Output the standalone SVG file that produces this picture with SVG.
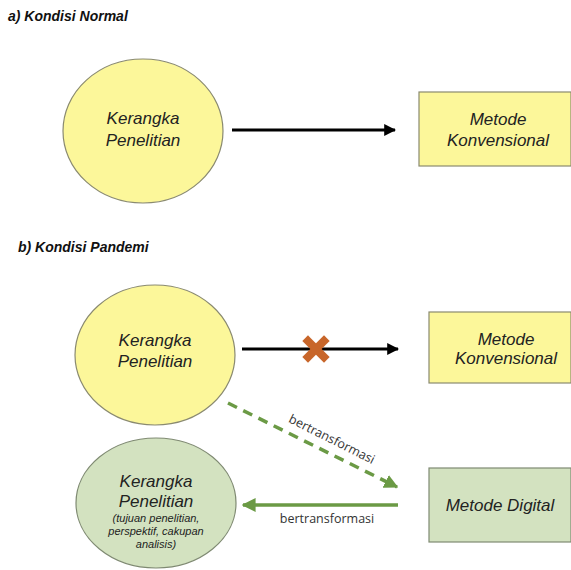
<svg xmlns="http://www.w3.org/2000/svg" width="571" height="570" viewBox="0 0 571 570">
<style>
.title{font-family:"Liberation Sans",Arial,sans-serif;font-weight:bold;font-style:italic;font-size:14px;fill:#111}
.lbl{font-family:"Liberation Sans",Arial,sans-serif;font-style:italic;font-size:17px;fill:#222;text-anchor:middle}
.sm{font-family:"Liberation Sans",Arial,sans-serif;font-style:italic;font-size:11px;fill:#222;text-anchor:middle}
.edge{font-family:"Open Sans","Liberation Sans",sans-serif;font-size:12.5px;fill:#333;text-anchor:middle}
.yel{fill:#fcf79a;stroke:#8a8a70;stroke-width:1.2}
.grn{fill:#d3e2c0;stroke:#7f8a72;stroke-width:1.2}
</style>
<defs>
<marker id="ab" viewBox="0 0 10 10" refX="9" refY="5" markerWidth="4" markerHeight="4" orient="auto"><path d="M0,0 L10,5 L0,10 z" fill="#000"/></marker>
<marker id="ag" viewBox="0 0 10 10" refX="9" refY="5" markerWidth="4" markerHeight="4" orient="auto-start-reverse"><path d="M0,0 L10,5 L0,10 z" fill="#6b9a45"/></marker>
</defs>
<text class="title" x="8" y="21">a) Kondisi Normal</text>
<text class="title" x="18" y="252">b) Kondisi Pandemi</text>
<g id="kerangka-a">
<ellipse class="yel" cx="143" cy="131" rx="80" ry="72"/>
<text class="lbl" x="143" y="124">Kerangka</text>
<text class="lbl" x="143" y="146">Penelitian</text>
</g>
<g id="metode-a">
<rect class="yel" x="419" y="92" width="152" height="74"/>
<text class="lbl" x="498" y="125">Metode</text>
<text class="lbl" x="498" y="146">Konvensional</text>
</g>
<g id="kerangka-b">
<ellipse class="yel" cx="155" cy="355" rx="80" ry="70"/>
<text class="lbl" x="155" y="346">Kerangka</text>
<text class="lbl" x="155" y="367">Penelitian</text>
</g>
<g id="metode-b">
<rect class="yel" x="429" y="312" width="142" height="71"/>
<text class="lbl" x="506" y="345">Metode</text>
<text class="lbl" x="506" y="364">Konvensional</text>
</g>
<g id="kerangka-c">
<ellipse class="grn" cx="156" cy="503" rx="80" ry="65"/>
<text class="lbl" x="156" y="487">Kerangka</text>
<text class="lbl" x="156" y="507">Penelitian</text>
<text class="sm" x="156" y="522">(tujuan penelitian,</text>
<text class="sm" x="156" y="535">perspektif, cakupan</text>
<text class="sm" x="156" y="548">analisis)</text>
</g>
<g id="metode-digital">
<rect class="grn" x="429" y="468" width="142" height="74"/>
<text class="lbl" x="500" y="511">Metode Digital</text>
</g>
<g id="connectors">
<line x1="232" y1="130" x2="395" y2="130" stroke="#000" stroke-width="3" marker-end="url(#ab)"/>
<line x1="242" y1="349" x2="398" y2="349" stroke="#000" stroke-width="3" marker-end="url(#ab)"/>
<g stroke="#c8662a" stroke-width="8" stroke-linecap="square">
<line x1="308" y1="341" x2="324" y2="357"/>
<line x1="324" y1="341" x2="308" y2="357"/>
</g>
<line x1="228" y1="403" x2="397" y2="487" stroke="#6b9a45" stroke-width="3.5" stroke-dasharray="10,7" marker-end="url(#ag)"/>
<text class="edge" x="0" y="0" transform="translate(330,443) rotate(26.6)">bertransformasi</text>
<line x1="398" y1="505" x2="243" y2="505" stroke="#6b9a45" stroke-width="3.5" marker-end="url(#ag)"/>
<text class="edge" x="327" y="523">bertransformasi</text>
</g>
</svg>
